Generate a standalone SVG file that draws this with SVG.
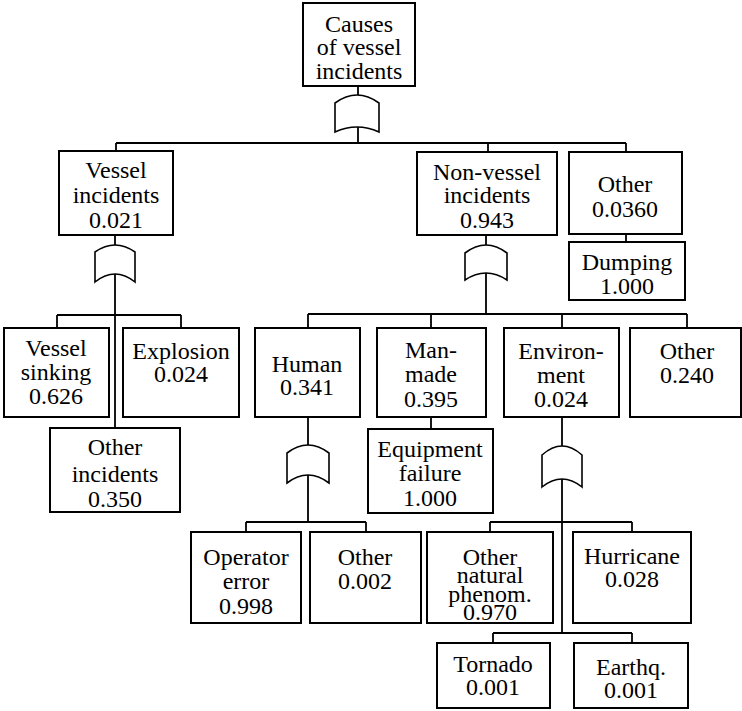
<svg xmlns="http://www.w3.org/2000/svg" width="742" height="711" viewBox="0 0 742 711">
  <defs>
    <style>
      .box { fill: #ffffff; stroke: #000000; stroke-width: 2; }
      .gate { fill: #ffffff; stroke: #000000; stroke-width: 1.6; }
      .wire { fill: none; stroke: #000000; stroke-width: 1.8; }
      .lbl { font-family: "Liberation Serif", "Times New Roman", serif; font-size: 24px; fill: #000000; text-anchor: middle; }
    </style>
  </defs>
  <rect width="742" height="711" fill="#ffffff"/>

  <!-- connectors -->
  <g id="connectors" class="wire">
    <!-- top event -->
    <path d="M358,86 V96 M358,127 V143 M116,143 H626 M116,143 V151 M488,143 V152 M626,143 V152"/>
    <!-- vessel incidents -->
    <path d="M115,235 V246 M115,274 V428 M57,315 H181 M57,315 V328 M181,315 V328"/>
    <!-- non-vessel incidents -->
    <path d="M486,235 V246 M486,273 V314 M308,314 H687 M308,314 V328 M431,314 V328 M562,314 V328 M687,314 V328"/>
    <!-- other -> dumping -->
    <path d="M626,234 V242"/>
    <!-- man-made -> equipment failure -->
    <path d="M431,417 V429"/>
    <!-- human -->
    <path d="M308,417 V446 M308,475 V522 M246,522 H366 M246,522 V532 M366,522 V532"/>
    <!-- environment -->
    <path d="M562,417 V447 M562,479 V633 M490,522 H632 M490,522 V532 M632,522 V532 M493,633 H632 M493,633 V643 M632,633 V643"/>
  </g>

  <!-- OR gates -->
  <g id="gate-top"><path class="gate" d="M335,103 Q357,87 379,103 V132 Q357,122 335,132 Z"/></g>
  <g id="gate-vessel"><path class="gate" d="M95,252 Q115,238 135,252 V282 Q115,266 95,282 Z"/></g>
  <g id="gate-nonvessel"><path class="gate" d="M465,253 Q486,237 507,253 V280 Q486,266 465,280 Z"/></g>
  <g id="gate-human"><path class="gate" d="M287,453 Q308,437 329,453 V483 Q308,467 287,483 Z"/></g>
  <g id="gate-environment"><path class="gate" d="M542,455 Q562,437 582,455 V487 Q562,471 542,487 Z"/></g>

  <!-- events -->
  <g class="lbl">
  <g id="node-causes">
    <rect class="box" x="303" y="3" width="112" height="83"/>
    <text x="359" y="32">Causes</text>
    <text x="359" y="55">of vessel</text>
    <text x="359" y="79">incidents</text>
  </g>
  <g id="node-vessel-incidents">
    <rect class="box" x="59" y="151" width="114" height="84"/>
    <text x="116" y="178">Vessel</text>
    <text x="116" y="203">incidents</text>
    <text x="116" y="228">0.021</text>
  </g>
  <g id="node-nonvessel-incidents">
    <rect class="box" x="417" y="152" width="140" height="83"/>
    <text x="487" y="180">Non-vessel</text>
    <text x="487" y="203">incidents</text>
    <text x="487" y="228">0.943</text>
  </g>
  <g id="node-other-top">
    <rect class="box" x="569" y="152" width="113" height="82"/>
    <text x="625" y="192">Other</text>
    <text x="625" y="217">0.0360</text>
  </g>
  <g id="node-dumping">
    <rect class="box" x="569" y="242" width="116" height="58"/>
    <text x="627" y="270">Dumping</text>
    <text x="627" y="294">1.000</text>
  </g>
  <g id="node-vessel-sinking">
    <rect class="box" x="4" y="328" width="105" height="89"/>
    <text x="56" y="356">Vessel</text>
    <text x="56" y="380">sinking</text>
    <text x="56" y="404">0.626</text>
  </g>
  <g id="node-explosion">
    <rect class="box" x="123" y="328" width="116" height="89"/>
    <text x="181" y="359">Explosion</text>
    <text x="181" y="382">0.024</text>
  </g>
  <g id="node-other-incidents">
    <rect class="box" x="50" y="428" width="130" height="84"/>
    <text x="115" y="455">Other</text>
    <text x="115" y="482">incidents</text>
    <text x="115" y="507">0.350</text>
  </g>
  <g id="node-human">
    <rect class="box" x="255" y="328" width="105" height="89"/>
    <text x="307" y="372">Human</text>
    <text x="307" y="395">0.341</text>
  </g>
  <g id="node-manmade">
    <rect class="box" x="377" y="328" width="109" height="89"/>
    <text x="431" y="358">Man-</text>
    <text x="431" y="382">made</text>
    <text x="431" y="407">0.395</text>
  </g>
  <g id="node-environment">
    <rect class="box" x="504" y="328" width="115" height="89"/>
    <text x="561" y="359">Environ-</text>
    <text x="561" y="383">ment</text>
    <text x="561" y="407">0.024</text>
  </g>
  <g id="node-other-nonvessel">
    <rect class="box" x="630" y="328" width="111" height="89"/>
    <text x="687" y="359">Other</text>
    <text x="687" y="383">0.240</text>
  </g>
  <g id="node-equipment-failure">
    <rect class="box" x="368" y="429" width="125" height="84"/>
    <text x="430" y="457">Equipment</text>
    <text x="430" y="481">failure</text>
    <text x="430" y="506">1.000</text>
  </g>
  <g id="node-operator-error">
    <rect class="box" x="191" y="532" width="110" height="91"/>
    <text x="246" y="565">Operator</text>
    <text x="246" y="589">error</text>
    <text x="246" y="614">0.998</text>
  </g>
  <g id="node-other-human">
    <rect class="box" x="310" y="532" width="111" height="91"/>
    <text x="365" y="565">Other</text>
    <text x="365" y="589">0.002</text>
  </g>
  <g id="node-other-natural">
    <rect class="box" x="427" y="532" width="126" height="91"/>
    <text x="490" y="565">Other</text>
    <text x="490" y="583">natural</text>
    <text x="490" y="602">phenom.</text>
    <text x="490" y="620">0.970</text>
  </g>
  <g id="node-hurricane">
    <rect class="box" x="573" y="532" width="118" height="91"/>
    <text x="632" y="564">Hurricane</text>
    <text x="632" y="587">0.028</text>
  </g>
  <g id="node-tornado">
    <rect class="box" x="437" y="643" width="113" height="65"/>
    <text x="493" y="672">Tornado</text>
    <text x="493" y="695">0.001</text>
  </g>
  <g id="node-earthquake">
    <rect class="box" x="574" y="643" width="114" height="65"/>
    <text x="631" y="675">Earthq.</text>
    <text x="631" y="698">0.001</text>
  </g>
  </g>
</svg>
